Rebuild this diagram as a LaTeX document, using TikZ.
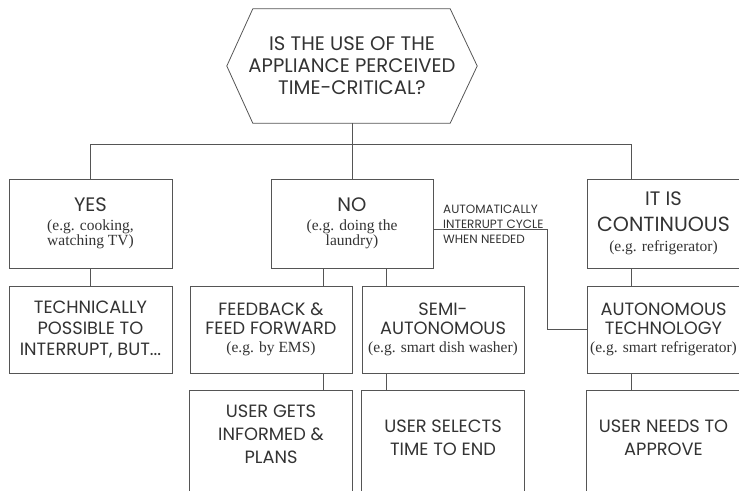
\documentclass[tikz,border=0pt]{standalone}
\usepackage{fontspec}
\setmainfont{Liberation Serif}
\newfontfamily\hfont{Poppins}
\definecolor{lc}{HTML}{555555}
\definecolor{tc}{HTML}{333333}
\newcommand{\hbig}{\hfont\fontsize{19.5}{22}\selectfont}
\newcommand{\hmid}{\hfont\fontsize{17.8}{20}\selectfont}
\begin{document}
\begin{tikzpicture}[x=1pt,y=-1pt,
  conn/.style={draw=lc, line width=0.8pt},
  boxnode/.style={draw=lc, line width=0.8pt, inner sep=0pt, text=tc, align=center, font=\fontsize{15.5}{14}\selectfont},
  openbox/.style={draw=none, inner sep=0pt, text=tc, align=center, font=\hfont\fontsize{17.8}{23}\selectfont},
  lbl/.style={inner sep=0pt, text=tc, align=left, font=\hfont\fontsize{12}{15}\selectfont}]
\useasboundingbox (0,0) rectangle (739,490);
% question
\node[draw=none, inner sep=0pt, text=tc, align=center, minimum width=250pt, minimum height=114pt,
      font=\hfont\fontsize{19.6}{22}\selectfont] (q) at (352,66) {IS THE USE OF THE\\APPLIANCE PERCEIVED\\TIME-CRITICAL?};
\draw[conn] (q.west) -- ([xshift=26pt]q.north west) -- ([xshift=-27pt]q.north east) -- (q.east)
  -- ([xshift=-27pt]q.south east) -- ([xshift=26pt]q.south west) -- cycle;
% level 1
\node[boxnode, minimum width=163pt, minimum height=89pt] (yes) at (90.5,223.5)
  {{\hbig YES}\\[5pt](e.g. cooking,\\watching TV)};
\node[boxnode, minimum width=162pt, minimum height=89pt] (no) at (352,223.5)
  {{\hbig NO}\\[5pt](e.g. doing the\\laundry)};
\node[boxnode, minimum width=153pt, minimum height=89pt] (cont) at (663.5,223.5)
  {{\hbig IT IS}\\[10pt]{\hfont\fontsize{20.5}{22}\selectfont CONTINUOUS}\\[6pt](e.g. refrigerator)};
% level 2
\node[boxnode, minimum width=163pt, minimum height=87pt, font=\hfont\fontsize{17.8}{21}\selectfont] (tech) at (90.5,329.5)
  {TECHNICALLY\\POSSIBLE TO\\INTERRUPT, BUT...};
\node[boxnode, minimum width=162pt, minimum height=87pt] (feed) at (271,329.5)
  {{\hmid FEEDBACK \&}\\[5pt]{\hmid FEED FORWARD}\\[4pt](e.g. by EMS)};
\node[boxnode, minimum width=162pt, minimum height=87pt] (semi) at (443,329.5)
  {{\hmid SEMI-}\\[5pt]{\hmid AUTONOMOUS}\\[4pt](e.g. smart dish washer)};
\node[boxnode, minimum width=153pt, minimum height=87pt] (auto) at (663.5,329.5)
  {{\hmid AUTONOMOUS}\\[5pt]{\hmid TECHNOLOGY}\\[4pt](e.g. smart refrigerator)};
% level 3 (open at the bottom)
\node[openbox, minimum width=162pt, minimum height=86pt] (ug) at (271,434) {USER GETS\\INFORMED \&\\PLANS};
\node[openbox, minimum width=162pt, minimum height=94pt] (uend) at (443,438) {USER SELECTS\\TIME TO END};
\node[openbox, minimum width=153pt, minimum height=94pt] (uapp) at (663.5,438) {USER NEEDS TO\\APPROVE};
\foreach \n in {ug,uend,uapp}{
  \draw[conn] ([yshift=-40pt]\n.south west) -- (\n.north west) -- (\n.north east) -- ([yshift=-40pt]\n.south east);
}
% tree connectors
\coordinate (bus) at (352,144);
\coordinate (cj) at (631,144);
\draw[conn] (q.south) -- (no.north);
\draw[conn] (yes.north) |- (cj) -- (cj |- cont.north);
\draw[conn] (yes.south) -- (tech.north);
\draw[conn] ([xshift=-29pt]no.south) -- ([xshift=52pt]feed.north);
\draw[conn] ([xshift=34pt]no.south) -- ([xshift=-57pt]semi.north);
\draw[conn] ([xshift=52pt]feed.south) -- ([xshift=52pt]ug.north);
\draw[conn] ([xshift=-57pt]semi.south) -- ([xshift=-57pt]uend.north);
\draw[conn] ([xshift=-32.5pt]cont.south) -- ([xshift=-32.5pt]auto.north);
\draw[conn] ([xshift=-32.5pt]auto.south) -- ([xshift=-32.5pt]uapp.north);
% automatic interrupt
\coordinate (turn) at (547,229);
\draw[conn] ([yshift=-5.5pt]no.east) -- (turn) |- (auto.west);
\node[lbl, anchor=north west] (al) at (443,204.5) {AUTOMATICALLY\\INTERRUPT CYCLE\\WHEN NEEDED};
\end{tikzpicture}
\end{document}
